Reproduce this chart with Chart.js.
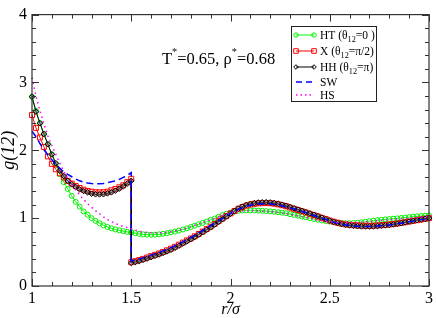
<!DOCTYPE html>
<html>
<head>
<meta charset="utf-8">
<script src="https://cdn.jsdelivr.net/npm/chart.js@4.4.1/dist/chart.umd.min.js"></script>
<style>
html, body { margin: 0; padding: 0; background: #fff; }
</style>
</head>
<body>
<canvas id="c" width="436" height="318"></canvas>
<script>
// r grid, split at the well edge r = 1.5 (X, HH and SW jump there)
const rInner = [1.00,1.02,1.04,1.06,1.08,1.10,1.12,1.14,1.16,1.18,
  1.20,1.22,1.24,1.26,1.28,1.30,1.32,1.34,1.36,1.38,
  1.40,1.42,1.44,1.46,1.48,1.50];
const rOuter = [1.50,1.52,1.54,1.56,1.58,1.60,1.62,1.64,1.66,1.68,
  1.70,1.72,1.74,1.76,1.78,1.80,1.82,1.84,1.86,1.88,
  1.90,1.92,1.94,1.96,1.98,2.00,2.02,2.04,2.06,2.08,
  2.10,2.12,2.14,2.16,2.18,2.20,2.22,2.24,2.26,2.28,
  2.30,2.32,2.34,2.36,2.38,2.40,2.42,2.44,2.46,2.48,
  2.50,2.52,2.54,2.56,2.58,2.60,2.62,2.64,2.66,2.68,
  2.70,2.72,2.74,2.76,2.78,2.80,2.82,2.84,2.86,2.88,
  2.90,2.92,2.94,2.96,2.98,3.00];

// HT (theta12 = 0)
const htInner = [2.79,2.58,2.40,2.24,2.09,1.94,1.79,1.65,1.53,1.43,
  1.33,1.24,1.17,1.10,1.05,1.00,0.96,0.925,0.895,0.87,
  0.85,0.834,0.82,0.808,0.798,0.79];
const htOuter = [0.79,0.778,0.768,0.761,0.757,0.755,0.757,0.762,0.769,0.778,
  0.79,0.802,0.817,0.833,0.85,0.87,0.89,0.91,0.93,0.95,
  0.975,0.995,1.02,1.045,1.065,1.08,1.097,1.107,1.113,1.115,
  1.115,1.113,1.111,1.108,1.104,1.10,1.094,1.087,1.08,1.072,
  1.06,1.048,1.036,1.024,1.012,1.00,0.988,0.976,0.966,0.958,
  0.95,0.942,0.934,0.928,0.925,0.925,0.928,0.932,0.938,0.947,
  0.955,0.963,0.97,0.976,0.982,0.987,0.992,0.997,1.003,1.009,
  1.015,1.021,1.026,1.031,1.036,1.04];

// X (theta12 = pi/2)
const xInner = [2.52,2.33,2.19,2.05,1.91,1.80,1.72,1.66,1.60,1.55,
  1.51,1.473,1.445,1.42,1.40,1.39,1.382,1.38,1.382,1.39,
  1.41,1.43,1.455,1.485,1.53,1.58];
const xOuter = [0.35,0.366,0.382,0.40,0.42,0.44,0.46,0.48,0.502,0.526,
  0.55,0.578,0.609,0.64,0.672,0.70,0.732,0.767,0.803,0.839,
  0.875,0.915,0.955,0.995,1.033,1.07,1.106,1.138,1.164,1.185,
  1.20,1.211,1.218,1.221,1.222,1.22,1.213,1.203,1.19,1.175,
  1.155,1.138,1.12,1.101,1.082,1.063,1.044,1.025,1.005,0.985,
  0.965,0.948,0.932,0.918,0.908,0.902,0.896,0.892,0.889,0.888,
  0.888,0.889,0.892,0.896,0.901,0.907,0.913,0.921,0.93,0.94,
  0.95,0.96,0.97,0.98,0.99,1.00];

// HH (theta12 = pi)
const hhInner = [2.79,2.57,2.40,2.24,2.09,1.94,1.81,1.70,1.62,1.55,
  1.50,1.46,1.425,1.40,1.38,1.36,1.352,1.35,1.352,1.365,
  1.38,1.405,1.435,1.47,1.51,1.55];
const hhOuter = [0.34,0.352,0.367,0.385,0.405,0.425,0.445,0.465,0.487,0.51,
  0.535,0.563,0.594,0.626,0.658,0.69,0.722,0.757,0.793,0.829,
  0.865,0.905,0.945,0.985,1.025,1.065,1.105,1.14,1.17,1.195,
  1.21,1.222,1.23,1.234,1.235,1.232,1.224,1.213,1.199,1.183,
  1.165,1.145,1.127,1.108,1.089,1.07,1.05,1.03,1.008,0.985,
  0.965,0.945,0.928,0.913,0.902,0.893,0.887,0.882,0.878,0.877,
  0.877,0.879,0.883,0.888,0.894,0.90,0.908,0.916,0.926,0.938,
  0.95,0.96,0.97,0.98,0.99,1.00];

// SW (square well)
const swInner = [2.28,2.20,2.10,2.01,1.93,1.86,1.795,1.735,1.68,1.645,
  1.61,1.578,1.55,1.53,1.517,1.51,1.506,1.507,1.512,1.522,
  1.535,1.55,1.572,1.60,1.632,1.67];
const swOuter = [0.37,0.382,0.397,0.415,0.435,0.455,0.475,0.495,0.517,0.541,
  0.565,0.593,0.621,0.651,0.683,0.715,0.747,0.782,0.818,0.854,
  0.89,0.926,0.962,1.00,1.04,1.07,1.103,1.132,1.155,1.174,
  1.19,1.201,1.207,1.211,1.212,1.21,1.202,1.193,1.18,1.166,
  1.15,1.134,1.117,1.099,1.08,1.06,1.04,1.02,1.00,0.98,
  0.96,0.94,0.923,0.909,0.898,0.89,0.885,0.881,0.879,0.878,
  0.878,0.88,0.883,0.888,0.894,0.90,0.908,0.916,0.926,0.936,
  0.946,0.957,0.968,0.979,0.99,1.00];

// HS (hard spheres)
const hsInner = [3.07,2.80,2.58,2.39,2.21,2.07,1.94,1.81,1.69,1.59,
  1.50,1.42,1.345,1.275,1.215,1.16,1.11,1.065,1.02,0.98,
  0.95,0.92,0.897,0.877,0.86,0.845];
const hsOuter = [0.845,0.825,0.808,0.796,0.788,0.783,0.78,0.781,0.784,0.79,
  0.80,0.812,0.824,0.838,0.854,0.875,0.895,0.915,0.935,0.955,
  0.975,0.995,1.018,1.04,1.06,1.08,1.092,1.101,1.107,1.11,
  1.11,1.109,1.106,1.103,1.099,1.095,1.089,1.082,1.074,1.064,
  1.053,1.042,1.031,1.019,1.007,0.995,0.983,0.972,0.963,0.955,
  0.948,0.942,0.937,0.934,0.933,0.933,0.934,0.937,0.941,0.945,
  0.95,0.955,0.96,0.966,0.971,0.977,0.982,0.987,0.992,0.997,
  1.002,1.007,1.011,1.015,1.019,1.022];

const xTickLabels = [1, 1.5, 2, 2.5, 3];
const yTickLabels = [0, 1, 2, 3, 4];

const SERIF = '"Liberation Serif", "Times New Roman", serif';

function pts(inner, outer) {
  const a = rInner.map((r, i) => ({ x: r, y: inner[i] }));
  const b = rOuter.map((r, i) => ({ x: r, y: outer[i] }));
  return a.concat(b);
}

// first dataset is drawn on top
const datasets = [
  { label: 'HS', data: pts(hsInner, hsOuter), borderColor: '#ff00ff', borderWidth: 1.5,
    borderDash: [1.5, 3.5], pointRadius: 0 },
  { label: 'SW', data: pts(swInner, swOuter), borderColor: '#0000ff', borderWidth: 1.5,
    borderDash: [7, 4], pointRadius: 0 },
  { label: 'HH', data: pts(hhInner, hhOuter), borderColor: '#000000', borderWidth: 1,
    pointStyle: 'rectRot', pointRadius: 2.8, pointBorderWidth: 1,
    pointBorderColor: '#000', pointBackgroundColor: 'rgba(110,110,110,0.5)' },
  { label: 'X', data: pts(xInner, xOuter), borderColor: '#ff0000', borderWidth: 1,
    pointStyle: 'rect', pointRadius: 3.5, pointBorderWidth: 1,
    pointBorderColor: '#ff0000', pointBackgroundColor: 'rgba(0,0,0,0)' },
  { label: 'HT', data: pts(htInner, htOuter), borderColor: '#00ff00', borderWidth: 1,
    pointStyle: 'circle', pointRadius: 2.5, pointBorderWidth: 1,
    pointBorderColor: '#00ee00', pointBackgroundColor: 'rgba(0,0,0,0)' }
];
datasets.forEach(d => { d.fill = false; d.tension = 0; d.clip = false; d.pointHoverRadius = 0; });

function drawRich(ctx, parts, x, y, size) {
  // parts: [text, 'n' | 'sub' | 'sup']
  for (const [t, k] of parts) {
    let s = size, dy = 0;
    if (k === 'sub') { s = size * 0.72; dy = size * 0.3; }
    if (k === 'sup') { s = size * 0.62; dy = -size * 0.55; }
    ctx.font = s + 'px ' + SERIF;
    ctx.fillText(t, x, y + dy);
    x += ctx.measureText(t).width;
  }
  return x;
}

function marker(ctx, style, x, y, color) {
  ctx.save();
  ctx.strokeStyle = color;
  ctx.lineWidth = 1;
  ctx.setLineDash([]);
  ctx.beginPath();
  if (style === 'circle') ctx.arc(x, y, 2.2, 0, Math.PI * 2);
  if (style === 'rect') ctx.rect(x - 2.3, y - 2.3, 4.6, 4.6);
  if (style === 'rectRot') { ctx.moveTo(x, y - 2.3); ctx.lineTo(x + 2.3, y); ctx.lineTo(x, y + 2.3); ctx.lineTo(x - 2.3, y); ctx.closePath(); }
  ctx.stroke();
  ctx.restore();
}

const framePlugin = {
  id: 'frame',
  afterDatasetsDraw(chart) {
    const ctx = chart.ctx;
    const { left, right, top, bottom } = chart.chartArea;
    const sx = chart.scales.x, sy = chart.scales.y;
    ctx.save();
    ctx.strokeStyle = '#333';
    ctx.lineWidth = 1;
    ctx.beginPath();
    for (let i = 0; i <= 20; i++) {
      const px = Math.round(sx.getPixelForValue(1 + i * 0.1)) + 0.5;
      const len = i % 5 === 0 ? 7 : 4;
      ctx.moveTo(px, bottom); ctx.lineTo(px, bottom - len);
      ctx.moveTo(px, top); ctx.lineTo(px, top + len);
    }
    for (let i = 0; i <= 20; i++) {
      const py = Math.round(sy.getPixelForValue(i * 0.2)) + 0.5;
      const len = i % 5 === 0 ? 7 : 4;
      ctx.moveTo(left, py); ctx.lineTo(left + len, py);
      ctx.moveTo(right, py); ctx.lineTo(right - len, py);
    }
    ctx.stroke();
    ctx.lineWidth = 1.2;
    ctx.strokeRect(left, top, right - left, bottom - top);
    ctx.restore();
  },
  afterDraw(chart) {
    const ctx = chart.ctx;
    ctx.save();
    ctx.fillStyle = '#000';
    ctx.textBaseline = 'alphabetic';
    // state annotation
    drawRich(ctx, [['T', 'n'], ['*', 'sup'], ['=0.65, ρ', 'n'], ['*', 'sup'], ['=0.68', 'n']], 162, 64, 16.5);

    // legend box
    ctx.strokeStyle = '#222';
    ctx.lineWidth = 1;
    ctx.strokeRect(291.5, 26.5, 85, 75);
    const rows = [
      { y: 35, color: '#00ff00', mk: 'circle', dash: [], parts: [['HT (θ', 'n'], ['12', 'sub'], ['=0 )', 'n']] },
      { y: 51, color: '#ff0000', mk: 'rect', dash: [], parts: [['X (θ', 'n'], ['12', 'sub'], ['=π/2)', 'n']] },
      { y: 67, color: '#000000', mk: 'rectRot', dash: [], parts: [['HH (θ', 'n'], ['12', 'sub'], ['=π)', 'n']] },
      { y: 82, color: '#0000ff', mk: null, dash: [6, 4], parts: [['SW', 'n']] },
      { y: 95, color: '#ff00ff', mk: null, dash: [1.5, 3], parts: [['HS', 'n']] }
    ];
    for (const r of rows) {
      ctx.save();
      ctx.strokeStyle = r.color;
      ctx.lineWidth = r.mk ? 1 : 1.5;
      ctx.setLineDash(r.dash);
      ctx.beginPath();
      ctx.moveTo(296, r.y); ctx.lineTo(314, r.y);
      ctx.stroke();
      ctx.restore();
      if (r.mk) { marker(ctx, r.mk, 296, r.y, r.mk === 'circle' ? '#00ee00' : r.color); marker(ctx, r.mk, 314, r.y, r.mk === 'circle' ? '#00ee00' : r.color); }
      drawRich(ctx, r.parts, 320, r.y + 4, 11.5);
    }
    ctx.restore();
  }
};

const chart = new Chart(document.getElementById('c'), {
  type: 'line',
  data: { datasets: datasets },
  options: {
    responsive: false,
    animation: false,
    events: [],
    layout: { padding: { top: 7, right: 5, left: 0, bottom: 0 } },
    plugins: { legend: { display: false }, tooltip: { enabled: false } },
    scales: {
      x: {
        type: 'linear', min: 1, max: 3,
        afterFit(scale) { scale.height = 32; },
        afterBuildTicks(scale) { scale.ticks = xTickLabels.map(v => ({ value: v })); },
        grid: { display: false, drawTicks: false },
        border: { display: false },
        ticks: { padding: 3, color: '#000', font: { family: SERIF, size: 16 }, maxRotation: 0,
          callback: v => String(v) },
        title: { display: true, text: 'r/σ', color: '#000', padding: { top: 0, bottom: 0 },
          font: { family: SERIF, size: 16, style: 'italic', lineHeight: 1.0 } }
      },
      y: {
        type: 'linear', min: 0, max: 4,
        afterFit(scale) { scale.width = 32; },
        afterBuildTicks(scale) { scale.ticks = yTickLabels.map(v => ({ value: v })); },
        grid: { display: false, drawTicks: false },
        border: { display: false },
        ticks: { padding: 5, color: '#000', font: { family: SERIF, size: 16 },
          callback: v => String(v) },
        title: { display: true, text: 'g(12)', color: '#000', padding: { top: 0, bottom: 0 },
          font: { family: SERIF, size: 18, style: 'italic', lineHeight: 1.0 } }
      }
    }
  },
  plugins: [framePlugin]
});
</script>
</body>
</html>
